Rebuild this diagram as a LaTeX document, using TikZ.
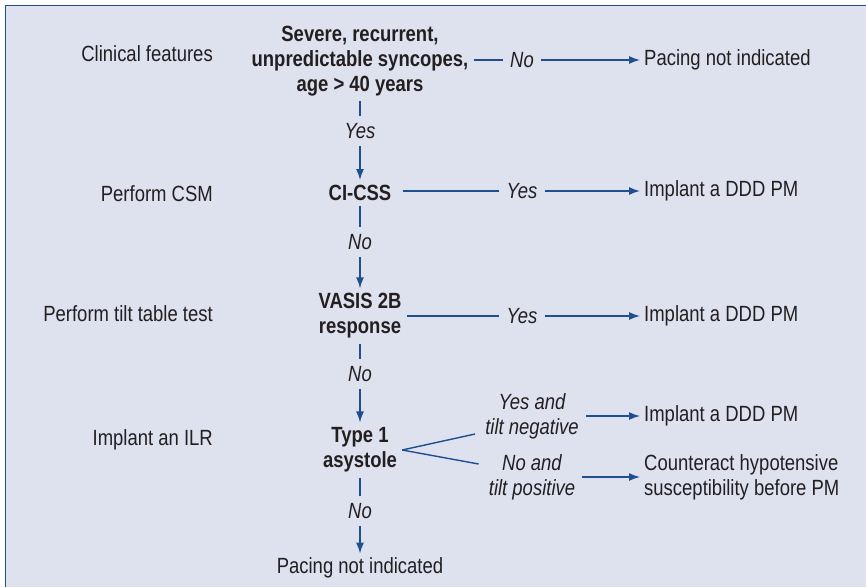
\documentclass[tikz,border=0pt]{standalone}
\usepackage{fontspec}
\setmainfont{Liberation Sans}[FakeStretch=0.84]
\usetikzlibrary{arrows.meta, positioning}

\definecolor{flowblue}{HTML}{1F4F8F}
\definecolor{panel}{HTML}{DEE1EE}
\definecolor{ink}{HTML}{231F20}
\newcommand{\fsz}{\fontsize{22}{25}\selectfont}

\tikzset{
  lbl/.style={anchor=east, inner sep=0pt, text=ink, font=\fsz},
  dec/.style={font=\fsz\bfseries, align=center, inner sep=5pt, text=ink},
  ans/.style={font=\fsz\itshape, align=center, inner sep=7pt, text=ink},
  res/.style={anchor=west, align=left, inner sep=4pt, text=ink, font=\fsz},
  ln/.style={draw=flowblue, line width=1.4pt},
  arr/.style={ln, -{Latex[length=11pt,width=8pt]}},
}

\begin{document}
\begin{tikzpicture}[x=1pt, y=-1pt]
  \useasboundingbox (0,0) rectangle (866,587);
  \fill[panel] (5,5) rectangle (866,587);
  \draw[flowblue, line width=1pt] (5,587) -- (5,5) -- (866,5);

  % left column
  \node[lbl] (clin) at (213,54) {Clinical features};
  \node[lbl] (pcsm) at (213,194) {Perform CSM};
  \node[lbl] (ptilt) at (213,314) {Perform tilt table test};
  \node[lbl] (pilr) at (213,440) {Implant an ILR};

  % main column
  \node[dec] (sev) at (360,61) {Severe, recurrent,\\unpredictable syncopes,\\age > 40 years};
  \node[ans] (yes1) at (360,131) {Yes};
  \node[dec] (cicss) at (360,193) {CI-CSS};
  \node[ans] (no2) at (360,242) {No};
  \node[dec] (vasis) at (360,316) {VASIS 2B\\response};
  \node[ans] (no3) at (360,374) {No};
  \node[dec] (type1) at (360,450) {Type 1\\asystole};
  \node[ans] (no4) at (360,511) {No};
  \node[res, anchor=center] (pni2) at (360,568) {Pacing not indicated};

  % right side
  \node[ans] (no1) at (522,60) {No};
  \node[res] (pni1) at (640,60) {Pacing not indicated};
  \node[ans] (yes2) at (522,191) {Yes};
  \node[res] (ddd1) at (640,191) {Implant a DDD PM};
  \node[ans] (yes3) at (522,316) {Yes};
  \node[res] (ddd2) at (640,316) {Implant a DDD PM};
  \node[ans] (yneg) at (532,416) {Yes and\\tilt negative};
  \node[res] (ddd3) at (640,416) {Implant a DDD PM};
  \node[ans] (npos) at (532,477) {No and\\tilt positive};
  \node[res] (cnt) at (640,477) {Counteract hypotensive\\susceptibility before PM};

  % vertical flow
  \draw[ln] (sev) -- (yes1);
  \draw[arr] (yes1) -- (cicss);
  \draw[ln] (cicss) -- (no2);
  \draw[arr] (no2) -- (vasis);
  \draw[ln] (vasis) -- (no3);
  \draw[arr] (no3) -- (type1);
  \draw[ln] (type1) -- (no4);
  \draw[arr] (no4) -- (pni2);

  % horizontal flow
  \draw[ln] (sev.east |- no1) -- (no1);
  \draw[arr] (no1) -- (pni1);
  \draw[ln] ([xshift=6pt]cicss.east |- yes2) -- (yes2);
  \draw[arr] (yes2) -- (ddd1);
  \draw[ln] (vasis.east |- yes3) -- (yes3);
  \draw[arr] (yes3) -- (ddd2);
  \draw[ln] (type1.east) -- ([shift={(-3pt,-18pt)}]yneg.west);
  \draw[ln] (type1.east) -- ([shift={(-3pt,13pt)}]npos.west);
  \draw[arr] (yneg) -- (ddd3);
  \draw[arr] (npos) -- (cnt);
\end{tikzpicture}
\end{document}
